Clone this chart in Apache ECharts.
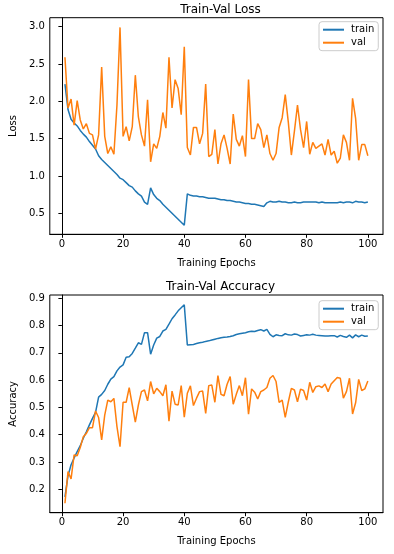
<!DOCTYPE html>
<html>
<head>
<meta charset="utf-8">
<script src="https://cdn.jsdelivr.net/npm/echarts@6/dist/echarts.min.js"></script>
<style>html,body{margin:0;padding:0;background:#fff}#c{width:394px;height:554px}</style>
</head>
<body>
<div id="c"></div>
<script>
const epochs = Array.from({length: 100}, (_, i) => i + 1);
const trainLoss = [2.23,1.89,1.76,1.71,1.67,1.61,1.56,1.52,1.46,1.41,1.36,1.27,1.22,1.18,1.14,1.10,1.06,1.02,0.97,0.95,
  0.91,0.87,0.85,0.80,0.76,0.73,0.65,0.62,0.84,0.75,0.70,0.67,0.62,0.58,0.54,0.50,0.46,0.42,0.38,0.34,
  0.76,0.74,0.73,0.73,0.72,0.72,0.71,0.70,0.70,0.70,0.69,0.68,0.68,0.67,0.67,0.66,0.65,0.65,0.64,0.63,
  0.63,0.62,0.62,0.61,0.60,0.59,0.64,0.66,0.65,0.65,0.66,0.65,0.65,0.64,0.64,0.65,0.64,0.64,0.65,0.65,
  0.65,0.65,0.65,0.64,0.65,0.64,0.64,0.64,0.64,0.64,0.65,0.64,0.65,0.65,0.64,0.66,0.65,0.65,0.64,0.65];
const valLoss = [2.59,1.91,2.03,1.68,2.01,1.75,1.63,1.70,1.57,1.55,1.36,1.55,2.46,1.53,1.30,1.39,1.29,1.95,2.99,1.53,
  1.66,1.47,1.66,2.35,1.79,1.55,1.40,2.02,1.19,1.43,1.37,1.53,1.85,1.64,2.59,1.91,2.29,2.17,1.82,2.73,
  1.38,1.28,1.65,1.65,1.43,1.57,2.23,1.26,1.29,1.62,1.16,1.43,1.55,1.37,1.16,1.83,1.49,1.40,1.54,1.26,
  2.29,1.50,1.50,1.70,1.62,1.38,1.55,1.30,1.21,1.30,1.65,1.78,2.09,1.72,1.28,1.60,1.95,1.62,1.38,1.73,
  1.29,1.45,1.37,1.40,1.43,1.28,1.49,1.28,1.33,1.17,1.24,1.55,1.45,1.21,2.04,1.77,1.21,1.42,1.42,1.27];
const trainAcc = [0.172,0.250,0.290,0.315,0.338,0.360,0.387,0.411,0.436,0.460,0.482,0.538,0.548,0.562,0.585,0.604,0.613,0.634,0.648,0.656,
  0.684,0.686,0.698,0.717,0.737,0.731,0.774,0.774,0.695,0.729,0.754,0.760,0.780,0.786,0.805,0.825,0.839,0.854,0.865,0.876,
  0.729,0.730,0.731,0.734,0.737,0.739,0.742,0.744,0.747,0.750,0.753,0.755,0.757,0.758,0.760,0.763,0.767,0.770,0.772,0.774,
  0.777,0.779,0.778,0.782,0.785,0.780,0.786,0.768,0.759,0.766,0.764,0.763,0.770,0.766,0.765,0.769,0.767,0.762,0.764,0.766,
  0.765,0.768,0.765,0.764,0.763,0.762,0.762,0.763,0.763,0.758,0.764,0.760,0.757,0.765,0.755,0.766,0.759,0.765,0.761,0.762];
const valAcc = [0.149,0.265,0.238,0.326,0.323,0.353,0.393,0.405,0.426,0.426,0.487,0.463,0.381,0.472,0.527,0.521,0.533,0.430,0.356,0.519,
  0.519,0.573,0.509,0.446,0.509,0.558,0.564,0.524,0.595,0.550,0.570,0.558,0.543,0.583,0.450,0.560,0.512,0.509,0.580,0.464,
  0.552,0.579,0.507,0.534,0.558,0.560,0.478,0.580,0.582,0.519,0.617,0.548,0.543,0.585,0.613,0.512,0.548,0.580,0.543,0.609,
  0.475,0.568,0.556,0.531,0.558,0.564,0.573,0.607,0.617,0.595,0.519,0.527,0.464,0.520,0.570,0.564,0.521,0.567,0.562,0.527,
  0.592,0.555,0.576,0.579,0.573,0.586,0.558,0.586,0.598,0.610,0.607,0.534,0.558,0.607,0.476,0.517,0.603,0.562,0.568,0.597];
const xTicks = [0, 20, 40, 60, 80, 100];
const lossTicks = [0.5, 1.0, 1.5, 2.0, 2.5, 3.0];
const accTicks = [0.2, 0.3, 0.4, 0.5, 0.6, 0.7, 0.8, 0.9];

const FONT = 'DejaVu Sans';
const pair = (ys) => epochs.map((e, i) => [e, ys[i]]);
function xAxisCfg(gi) {
  return {
    type: 'value', gridIndex: gi, min: -3.95, max: 104.95,
    name: 'Training Epochs', nameLocation: 'middle', nameGap: 24,
    nameTextStyle: {fontFamily: FONT, fontSize: 10, color: '#000'},
    axisLine: {show: true, onZero: false, lineStyle: {color: '#000', width: 1}},
    axisTick: {show: true, inside: false, length: 3.5, lineStyle: {color: '#000'}, customValues: xTicks},
    axisLabel: {fontFamily: FONT, fontSize: 10, color: '#000', margin: 5, customValues: xTicks},
    splitLine: {show: false}
  };
}
function yAxisCfg(gi, name, min, max, ticks, gap) {
  return {
    type: 'value', gridIndex: gi, min: min, max: max,
    name: name, nameLocation: 'middle', nameGap: gap,
    nameTextStyle: {fontFamily: FONT, fontSize: 10, color: '#000'},
    axisLine: {show: true, lineStyle: {color: '#000', width: 1}},
    axisTick: {show: true, inside: false, length: 3.5, lineStyle: {color: '#000'}, customValues: ticks},
    axisLabel: {fontFamily: FONT, fontSize: 10, color: '#000', margin: 5, customValues: ticks,
      formatter: v => v.toFixed(1)},
    splitLine: {show: false}
  };
}
function legendCfg(top) {
  return {
    data: ['train', 'val'], orient: 'vertical', left: 319, top: top,
    padding: [3, 4, 3, 4], itemGap: 3, itemWidth: 21, itemHeight: 2, icon: 'rect',
    backgroundColor: 'rgba(255,255,255,0.8)', borderColor: '#cccccc', borderWidth: 1, borderRadius: 3,
    textStyle: {fontFamily: FONT, fontSize: 10, color: '#000', padding: [0, 0, 0, 2]},
    selectedMode: false
  };
}
function lineSeries(name, xi, ys, color) {
  return {
    type: 'line', name: name, xAxisIndex: xi, yAxisIndex: xi, data: pair(ys),
    showSymbol: false, symbol: 'none', animation: false,
    lineStyle: {color: color, width: 1.5}, itemStyle: {color: color}
  };
}

const chart = echarts.init(document.getElementById('c'), null, {renderer: 'canvas'});
chart.setOption({
  backgroundColor: '#fff',
  animation: false,
  title: [
    {text: 'Train-Val Loss', left: 215.5, top: -1, textAlign: 'center',
      textStyle: {fontFamily: FONT, fontSize: 12, fontWeight: 'normal', color: '#000'}},
    {text: 'Train-Val Accuracy', left: 215.5, top: 276, textAlign: 'center',
      textStyle: {fontFamily: FONT, fontSize: 12, fontWeight: 'normal', color: '#000'}}
  ],
  grid: [
    {left: 48, top: 17.7, width: 335, height: 216.6, show: true, borderColor: '#000', borderWidth: 1, backgroundColor: 'transparent'},
    {left: 48, top: 295, width: 335, height: 217.7, show: true, borderColor: '#000', borderWidth: 1, backgroundColor: 'transparent'}
  ],
  xAxis: [xAxisCfg(0), xAxisCfg(1)],
  yAxis: [
    yAxisCfg(0, 'Loss', 0.218, 3.12, lossTicks, 25),
    yAxisCfg(1, 'Accuracy', 0.1144, 0.912, accTicks, 25)
  ],
  legend: [legendCfg(21.7), legendCfg(300.7)],
  series: [
    lineSeries('train', 0, trainLoss, '#1f77b4'),
    lineSeries('val', 0, valLoss, '#ff7f0e'),
    lineSeries('train', 1, trainAcc, '#1f77b4'),
    lineSeries('val', 1, valAcc, '#ff7f0e')
  ]
});
</script>
</body>
</html>
